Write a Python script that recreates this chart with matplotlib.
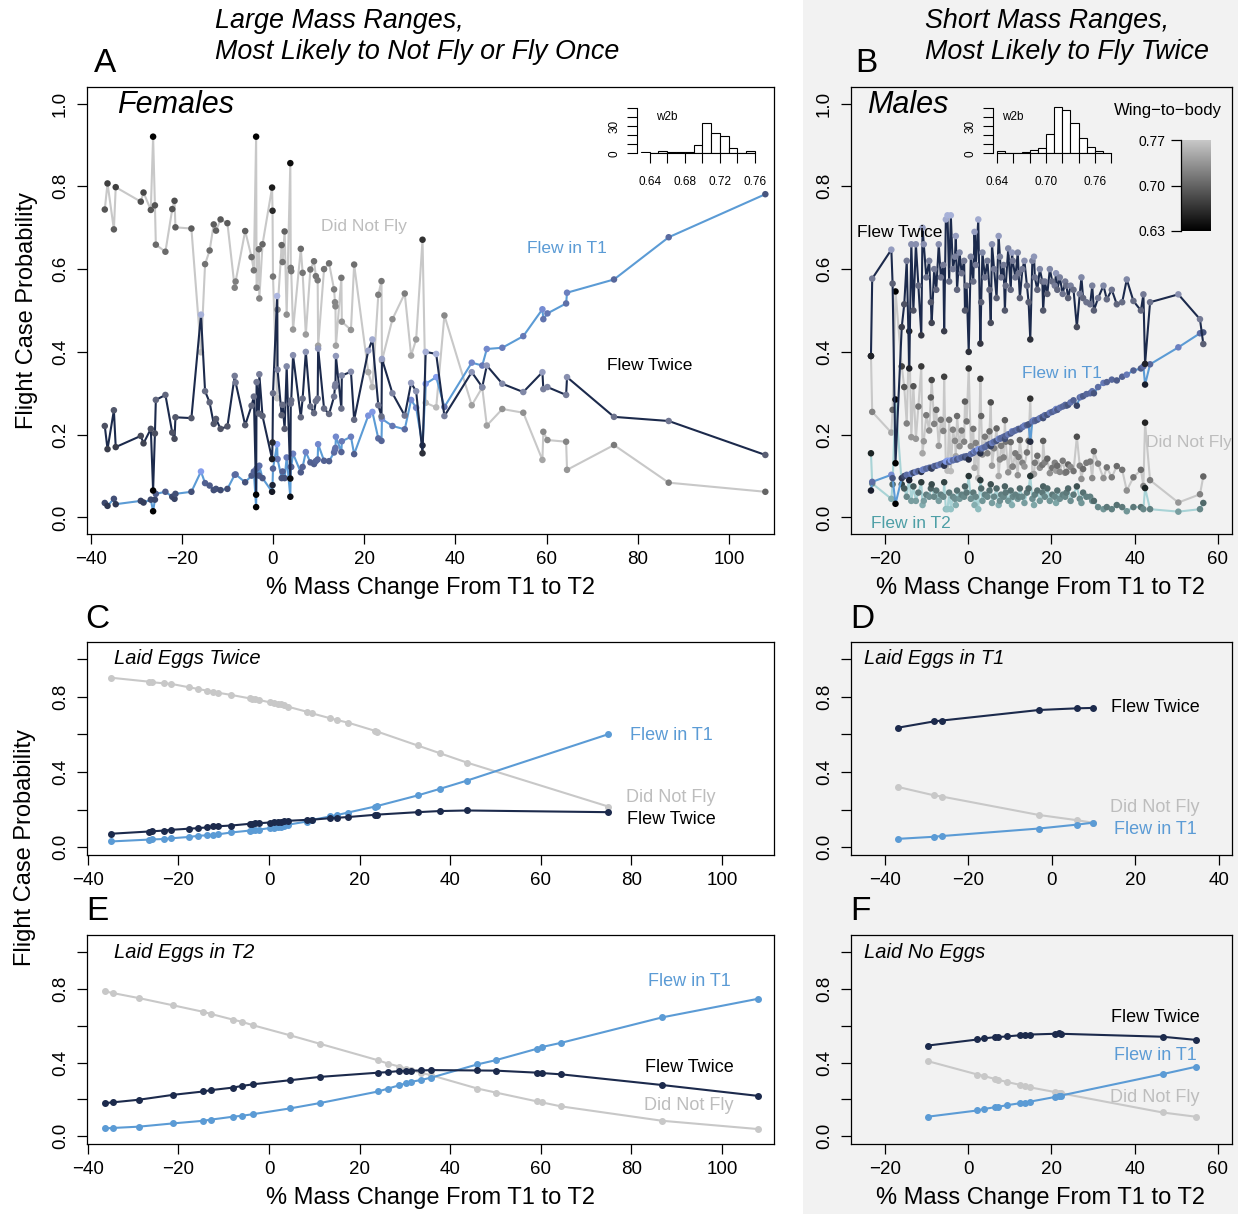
import numpy as np
import matplotlib.pyplot as plt
from matplotlib.colors import LinearSegmentedColormap
from matplotlib.patches import Rectangle

plt.rcParams['font.family'] = ['Liberation Sans', 'DejaVu Sans']

# ---- panel A, females: one entry per individual
fem_mass = [-36.9, -36.3, -34.9, -34.5, -29.0, -28.4, -26.8, -26.3, -25.9, -25.7,
            -23.6, -22.1, -21.6, -21.4, -17.9, -15.8, -14.9, -13.9, -13.0, -12.5,
            -11.5, -10.0, -8.4, -8.2, -6.1, -4.7, -4.2, -3.7, -3.6, -3.1,
            -3.0, -2.3, -0.2, -0.1, 0.0, 0.9, 1.0, 1.9, 2.1, 2.55,
            3.0, 3.8, 3.9, 4.0, 4.4, 6.1, 6.5, 7.2, 8.2, 9.0,
            9.4, 9.8, 9.9, 11.2, 12.3, 13.4, 13.6, 13.7, 13.8, 15.0,
            15.1, 17.1, 17.8, 20.9, 21.8, 23.1, 23.8, 23.9, 26.2, 28.9,
            30.3, 31.4, 32.8, 33.5, 35.8, 37.6, 43.6, 45.9, 46.9, 50.3,
            54.9, 59.1, 59.3, 60.2, 64.3, 64.5, 74.8, 86.8, 108.0]
fem_dnf = [.744, .807, .696, .798, .763, .785, .743, .920, .754, .659,
           .642, .745, .765, .701, .698, .399, .612, .645, .708, .693,
           .720, .711, .555, .570, .692, .629, .597, .920, .555, .648,
           .529, .660, .797, .741, .582, .288, .502, .658, .617, .691,
           .490, .856, .603, .595, .454, .649, .591, .442, .599, .619,
           .583, .573, .415, .600, .614, .551, .520, .510, .415, .579,
           .473, .453, .611, .351, .315, .538, .571, .379, .479, .541,
           .391, .430, .671, .277, .266, .488, .271, .314, .222, .262,
           .253, .139, .207, .187, .183, .115, .175, .084, .062]
fem_twice = [.221, .165, .259, .170, .197, .179, .214, .065, .203, .284,
             .296, .205, .190, .242, .240, .490, .305, .278, .226, .238,
             .214, .220, .342, .326, .223, .270, .292, .055, .327, .251,
             .346, .245, .141, .181, .300, .535, .357, .247, .272, .214,
             .365, .094, .275, .283, .392, .242, .287, .400, .268, .252,
             .281, .287, .408, .263, .250, .292, .316, .322, .390, .263,
             .343, .352, .236, .403, .430, .271, .244, .383, .300, .246,
             .325, .305, .155, .400, .395, .245, .351, .315, .367, .323,
             .303, .351, .310, .315, .296, .339, .243, .233, .151]
fem_t1 = [.035, .028, .045, .032, .040, .036, .043, .015, .043, .057,
          .062, .050, .045, .057, .062, .111, .083, .077, .066, .069,
          .066, .069, .103, .104, .085, .101, .111, .025, .118, .101,
          .125, .095, .062, .078, .118, .177, .141, .095, .111, .095,
          .145, .050, .122, .122, .154, .109, .122, .158, .133, .129,
          .136, .140, .177, .137, .136, .157, .164, .168, .195, .158,
          .184, .195, .153, .246, .255, .191, .185, .238, .221, .213,
          .284, .265, .174, .323, .339, .267, .374, .367, .407, .410,
          .438, .503, .479, .493, .517, .543, .575, .677, .781]
fem_w2b = [.690, .675, .695, .675, .685, .680, .690, .632, .688, .705,
           .705, .690, .685, .695, .695, .760, .710, .705, .695, .697,
           .692, .694, .720, .718, .697, .706, .712, .632, .718, .704,
           .722, .702, .650, .660, .712, .765, .725, .700, .710, .698,
           .730, .640, .712, .712, .735, .705, .712, .738, .710, .708,
           .713, .715, .742, .710, .708, .718, .722, .724, .742, .712,
           .730, .733, .708, .750, .755, .718, .712, .748, .728, .718,
           .745, .738, .665, .758, .760, .725, .740, .730, .742, .732,
           .730, .745, .725, .728, .722, .735, .715, .718, .700]

# ---- panel B, males
male_mass = [-23.4, -23.1, -18.5, -18.2, -17.5, -16.0, -15.4, -14.8, -14.2, -13.7,
             -13.2, -12.6, -12.0, -11.3, -11.0, -10.7, -10.1, -9.4, -9.0, -8.8,
             -8.2, -7.7, -7.1, -6.6, -6.0, -5.8, -5.4, -5.0, -4.6, -4.2,
             -3.7, -3.2, -3.0, -2.7, -2.1, -1.6, -1.0, -0.8, -0.4, 0.1,
             0.6, 1.2, 1.5, 1.8, 2.4, 2.9, 3.1, 3.4, 4.0, 4.6,
             5.1, 5.4, 5.7, 6.2, 6.8, 7.3, 7.6, 7.9, 8.5, 8.8,
             9.0, 9.6, 10.2, 10.5, 10.7, 11.3, 11.9, 12.1, 12.4, 13.0,
             13.5, 14.1, 14.5, 14.9, 15.4, 15.8, 16.0, 16.6, 17.2, 17.8,
             18.0, 18.4, 19.0, 19.6, 20.2, 20.8, 21.1, 21.4, 22.0, 22.7,
             23.3, 23.6, 24.0, 24.6, 25.3, 26.1, 26.8, 27.2, 27.6, 28.4,
             29.3, 29.8, 30.2, 31.2, 32.5, 33.3, 34.5, 35.7, 37.0, 38.1,
             39.7, 41.5, 42.1, 42.5, 43.7, 50.5, 55.7, 56.5]
male_twice = [.390, .577, .647, .565, .131, .460, .515, .620, .360, .660,
              .500, .660, .560, .440, .700, .660, .580, .620, .520, .470,
              .600, .550, .660, .580, .610, .450, .720, .730, .570, .730,
              .600, .630, .680, .550, .640, .590, .620, .500, .560, .400,
              .630, .570, .690, .610, .720, .420, .520, .640, .580, .620,
              .550, .470, .660, .600, .530, .680, .630, .580, .610, .500,
              .560, .650, .550, .640, .620, .580, .640, .590, .530, .600,
              .620, .560, .520, .430, .620, .630, .580, .550, .600, .570,
              .500, .570, .540, .600, .570, .560, .590, .550, .580, .540,
              .570, .560, .530, .560, .550, .460, .540, .580, .530, .520,
              .515, .560, .500, .530, .560, .527, .550, .515, .520, .575,
              .523, .500, .539, .371, .520, .539, .479, .419]
male_dnf = [.390, .255, .205, .260, .546, .365, .315, .227, .450, .194,
            .317, .190, .268, .365, .155, .184, .247, .210, .290, .332,
            .226, .260, .173, .236, .209, .340, .125, .113, .236, .112,
            .212, .185, .148, .245, .172, .210, .183, .280, .232, .360,
            .172, .214, .120, .180, .095, .335, .245, .152, .195, .155,
            .208, .278, .125, .167, .215, .100, .140, .173, .145, .235,
            .183, .109, .182, .122, .123, .155, .102, .146, .187, .132,
            .123, .157, .185, .287, .103, .105, .132, .149, .120, .127,
            .185, .133, .142, .107, .120, .132, .113, .125, .110, .137,
            .108, .110, .128, .122, .112, .195, .125, .093, .117, .132,
            .135, .095, .160, .130, .095, .121, .097, .124, .115, .065,
            .097, .115, .076, .229, .090, .036, .056, .099]
male_t1 = [.065, .086, .103, .095, .033, .095, .100, .103, .090, .106,
           .108, .110, .112, .110, .115, .116, .118, .120, .120, .118,
           .124, .125, .127, .129, .131, .125, .135, .137, .134, .138,
           .138, .140, .142, .140, .143, .145, .147, .145, .148, .140,
           .153, .156, .160, .160, .165, .155, .165, .168, .170, .175,
           .177, .172, .180, .183, .185, .190, .190, .192, .195, .190,
           .197, .201, .203, .208, .207, .210, .213, .214, .213, .218,
           .222, .223, .225, .183, .232, .235, .233, .236, .240, .243,
           .240, .247, .248, .253, .255, .258, .262, .260, .265, .268,
           .272, .270, .272, .278, .283, .270, .290, .292, .293, .298,
           .300, .305, .300, .315, .325, .327, .333, .331, .340, .345,
           .355, .360, .365, .321, .370, .411, .445, .447]
male_t2 = [.155, .082, .045, .080, .285, .080, .070, .050, .100, .040,
           .075, .040, .060, .085, .030, .040, .055, .050, .070, .080,
           .050, .065, .040, .055, .050, .085, .020, .020, .060, .020,
           .050, .045, .030, .065, .045, .055, .050, .075, .060, .100,
           .045, .060, .030, .050, .020, .090, .070, .040, .055, .050,
           .065, .080, .035, .050, .070, .030, .040, .055, .050, .075,
           .060, .040, .065, .030, .050, .055, .045, .050, .070, .050,
           .035, .060, .070, .100, .045, .030, .055, .065, .040, .060,
           .075, .050, .070, .040, .055, .050, .035, .065, .045, .055,
           .050, .060, .070, .040, .055, .075, .045, .035, .060, .050,
           .050, .040, .040, .025, .020, .025, .020, .030, .025, .015,
           .025, .025, .020, .071, .020, .014, .020, .035]
male_w2b = [.655, .720, .745, .700, .630, .675, .690, .720, .655, .735,
            .690, .735, .710, .670, .745, .735, .715, .725, .695, .680,
            .720, .705, .735, .715, .720, .675, .755, .760, .710, .760,
            .720, .725, .745, .705, .730, .715, .720, .695, .710, .665,
            .725, .710, .745, .720, .755, .670, .700, .730, .715, .720,
            .705, .685, .735, .720, .700, .745, .725, .715, .720, .695,
            .710, .730, .705, .745, .720, .715, .730, .715, .700, .720,
            .735, .710, .700, .665, .725, .740, .715, .705, .730, .710,
            .695, .720, .700, .730, .710, .720, .740, .705, .725, .715,
            .720, .710, .700, .725, .710, .685, .720, .730, .705, .715,
            .715, .725, .700, .720, .730, .710, .715, .705, .710, .730,
            .710, .705, .720, .655, .715, .735, .720, .700]

# w2b histograms (bin left edges, counts)
fem_hist_left = [0.63, 0.64, 0.65, 0.66, 0.67, 0.68, 0.69, 0.70, 0.71, 0.72, 0.73, 0.74, 0.75]
fem_hist_n = [1, 0, 2, 1, 1, 1, 9, 33, 22, 19, 6, 0, 3]
male_hist_left = [0.64, 0.65, 0.66, 0.67, 0.68, 0.69, 0.70, 0.71, 0.72, 0.73, 0.74, 0.75, 0.76]
male_hist_n = [2, 0, 0, 1, 4, 6, 21, 51, 47, 33, 17, 7, 3]

# ---- panel C, laid eggs twice
c_mass = [-35.0, -26.6, -25.9, -23.3, -21.6, -17.7, -15.7, -13.7, -12.3, -11.3, -8.3,
          -4.3, -3.8, -3.1, -2.3, 0.1, 1.1, 1.9, 2.6, 3.4, 4.1, 8.3, 9.5, 13.5, 14.9,
          17.4, 23.4, 23.9, 32.8, 37.7, 43.7, 74.9]
c_dnf = [.902, .881, .878, .872, .869, .851, .842, .833, .826, .822, .810,
         .792, .790, .786, .784, .771, .766, .762, .760, .756, .748, .721, .712, .686, .677,
         .663, .619, .615, .541, .500, .450, .216]
c_twice = [.071, .083, .084, .088, .092, .098, .101, .105, .110, .111, .115,
           .124, .125, .126, .127, .131, .133, .134, .136, .138, .140, .145, .146, .154, .156,
           .160, .172, .173, .186, .192, .195, .186]
c_t1 = [.030, .040, .041, .043, .047, .054, .060, .063, .065, .068, .078,
        .088, .089, .091, .093, .101, .104, .106, .108, .110, .119, .136, .145, .163, .170,
        .184, .216, .219, .275, .310, .354, .601]

# ---- panel D, laid eggs in T1
d_mass = [-36.8, -28.3, -26.3, -3.1, 6.1, 9.8]
d_twice = [.636, .669, .674, .730, .739, .741]
d_dnf = [.320, .276, .269, .171, .143, .130]
d_t1 = [.044, .055, .059, .099, .120, .130]

# ---- panel E, laid eggs in T2
e_mass = [-36.2, -34.5, -28.8, -21.1, -14.5, -12.9, -8.0, -6.0, -3.5, 4.6, 11.2, 24.1, 26.3,
          28.8, 30.3, 31.3, 33.5, 35.8, 46.0, 50.1, 59.2, 60.2, 64.5, 86.8, 108.0]
e_dnf = [.786, .777, .750, .710, .675, .664, .633, .621, .602, .548, .502, .412, .394,
         .378, .367, .360, .345, .331, .259, .237, .189, .184, .162, .084, .039]
e_twice = [.180, .184, .198, .225, .243, .250, .264, .273, .282, .304, .322, .345, .348,
           .354, .355, .356, .357, .359, .357, .356, .345, .343, .336, .278, .219]
e_t1 = [.043, .045, .052, .070, .084, .090, .106, .111, .120, .151, .180, .243, .259,
        .277, .288, .295, .305, .318, .390, .413, .475, .484, .507, .645, .746]

# ---- panel F, laid no eggs
f_mass = [-9.8, 2.2, 3.8, 6.5, 7.2, 9.4, 12.4, 13.6, 14.9, 20.8, 21.7, 22.3, 46.7, 54.7]
f_twice = [.492, .525, .531, .538, .538, .542, .548, .550, .552, .556, .558, .556, .540, .523]
f_t1 = [.106, .140, .148, .158, .160, .169, .179, .183, .188, .213, .217, .221, .337, .377]
f_dnf = [.408, .335, .327, .310, .306, .294, .279, .273, .265, .240, .235, .233, .129, .106]

DNF_C = '#C8C8C8'
TW_C = '#1C2A4C'
T1_C = '#5B9BD5'
T2_C = '#A8D3D6'
GRAY_BG = '#F2F2F2'

W, H = 1238, 1214
fig = plt.figure(figsize=(W / 100, H / 100), dpi=100)


def rect(l, t, r, b):
    return [l / W, 1 - b / H, (r - l) / W, (b - t) / H]


def ftext(x, y, s, **kw):
    kw.setdefault('va', 'center')
    fig.text(x / W, 1 - y / H, s, **kw)


def shade(light, w):
    cmap = LinearSegmentedColormap.from_list('w2b', ['black', light])
    return cmap((np.asarray(w) - 0.63) / 0.14)


def frame(ax, xlim, ylim, xticks, yticks, ylabels, bg='white'):
    ax.set_facecolor(bg)
    ax.set_xlim(*xlim)
    ax.set_ylim(*ylim)
    ax.set_xticks(xticks)
    ax.set_yticks(yticks)
    ax.set_yticklabels(ylabels, rotation=90, va='center')
    ax.tick_params(direction='out', length=7, width=0.9, labelsize=13.5, pad=5)
    ax.tick_params(axis='y', pad=6)
    for s in ax.spines.values():
        s.set_linewidth(0.9)


fig.add_artist(Rectangle((803 / W, 0), 1 - 803 / W, 1, transform=fig.transFigure,
                         facecolor=GRAY_BG, edgecolor='none', zorder=-5))

big_y = [0, 0.2, 0.4, 0.6, 0.8, 1.0]
big_lab = ['0.0', '0.2', '0.4', '0.6', '0.8', '1.0']
small_lab = ['0.0', '', '0.4', '', '0.8', '']

# panel A
axA = fig.add_axes(rect(87, 87, 774, 534))
frame(axA, (-40.8, 109.9), (-0.04, 1.04), range(-40, 101, 20), big_y, big_lab)
z = 2
for vals, lc, light in [(fem_dnf, DNF_C, '#C8C8C8'), (fem_t1, T1_C, '#8FAAFF'),
                        (fem_twice, TW_C, '#B4BEE8')]:
    axA.plot(fem_mass, vals, color=lc, lw=1.5, zorder=z)
    axA.scatter(fem_mass, vals, c=shade(light, fem_w2b), s=22, lw=0, zorder=z + 0.5)
    z += 1

# panel B
axB = fig.add_axes(rect(851, 87, 1232, 534))
frame(axB, (-28.2, 63.4), (-0.04, 1.04), range(-20, 61, 20), big_y, big_lab, GRAY_BG)
z = 2
for vals, lc, light in [(male_dnf, DNF_C, '#C8C8C8'), (male_t2, T2_C, '#A0D2D4'),
                        (male_t1, T1_C, '#8FAAFF'), (male_twice, TW_C, '#B4BEE8')]:
    axB.plot(male_mass, vals, color=lc, lw=1.5, zorder=z)
    axB.scatter(male_mass, vals, c=shade(light, male_w2b), s=22, lw=0, zorder=z + 0.5)
    z += 1

small_ylim = (-0.042, 1.092)
small_y = [0, 0.2, 0.4, 0.6, 0.8, 1.0]


def small_panel(box, xlim, xticks, mass, series, bg):
    ax = fig.add_axes(rect(*box))
    frame(ax, xlim, small_ylim, xticks, small_y, small_lab, bg)
    for vals, c in series:
        ax.plot(mass, vals, color=c, lw=1.5, marker='o', ms=4, mec=c, mfc=c)
    return ax


small_panel((87, 642, 774, 855), (-40.2, 111.5), range(-40, 101, 20), c_mass,
            [(c_dnf, DNF_C), (c_t1, T1_C), (c_twice, TW_C)], 'white')
small_panel((851, 642, 1232, 855), (-48.1, 43.1), range(-40, 41, 20), d_mass,
            [(d_dnf, DNF_C), (d_t1, T1_C), (d_twice, TW_C)], GRAY_BG)
small_panel((87, 935, 774, 1144), (-40.2, 111.5), range(-40, 101, 20), e_mass,
            [(e_dnf, DNF_C), (e_t1, T1_C), (e_twice, TW_C)], 'white')
small_panel((851, 935, 1232, 1144), (-28.2, 63.4), range(-20, 61, 20), f_mass,
            [(f_dnf, DNF_C), (f_t1, T1_C), (f_twice, TW_C)], GRAY_BG)


# w2b histogram insets
def inset(l, r, xlim, lefts, counts, xticks, xlabels, label_x):
    ax = fig.add_axes(rect(l, 105, r, 153.3))
    ax.patch.set_alpha(0)
    ax.bar(lefts, counts, width=0.01, align='edge', facecolor='white',
           edgecolor='black', lw=0.8)
    ax.set_xlim(*xlim)
    ax.set_ylim(0, 53)
    for s in ['top', 'right']:
        ax.spines[s].set_visible(False)
    ax.spines['left'].set_bounds(0, 50)
    ax.spines['bottom'].set_bounds(xticks[0], xticks[-1])
    for s in ['left', 'bottom']:
        ax.spines[s].set_linewidth(0.8)
    ax.set_yticks(range(0, 51, 10))
    ax.set_yticklabels(['0', '', '', '30', '', ''], rotation=90, va='center')
    ax.set_xticks(xticks)
    ax.set_xticklabels(xlabels)
    ax.tick_params(direction='out', length=7, width=0.8, labelsize=8.5, pad=5)
    ax.tick_params(axis='x', pad=9)
    ftext(label_x, 117, 'w2b', ha='left', fontsize=8.5)


inset(637, 760, (0.6255, 0.7657), fem_hist_left, fem_hist_n,
      [0.64, 0.66, 0.68, 0.70, 0.72, 0.74, 0.76],
      ['0.64', '', '0.68', '', '0.72', '', '0.76'], 656)
inset(993, 1112, (0.635, 0.7811), male_hist_left, male_hist_n,
      [0.64, 0.66, 0.68, 0.70, 0.72, 0.74, 0.76, 0.78],
      ['0.64', '', '', '0.70', '', '', '0.76', ''], 1002)

# colour key for wing-to-body ratio
axK = fig.add_axes(rect(1181, 140, 1211, 231))
axK.imshow(np.linspace(0, 1, 256)[:, None], aspect='auto', origin='lower',
           extent=[0, 1, 0.63, 0.77], cmap=LinearSegmentedColormap.from_list('k', ['black', '#C8C8C8']))
axK.set_ylim(0.63, 0.77)
axK.set_xticks([])
axK.set_yticks([0.63, 0.70, 0.77])
axK.set_yticklabels(['0.63', '0.70', '0.77'])
for s in ['top', 'right', 'bottom']:
    axK.spines[s].set_visible(False)
axK.spines['left'].set_linewidth(0.9)
axK.tick_params(direction='out', length=7, width=0.9, labelsize=10, pad=4)
ftext(1168, 110, 'Wing\u2212to\u2212body', ha='center', fontsize=12)

# titles and panel letters
for x, y, s in [(215, 21, 'Large Mass Ranges,'), (215, 52, 'Most Likely to Not Fly or Fly Once'),
                (925, 21, 'Short Mass Ranges,'), (925, 52, 'Most Likely to Fly Twice')]:
    ftext(x, y, s, ha='left', fontsize=19.4, style='italic')
for x, y, s in [(105, 63, 'A'), (866, 63, 'B'), (97, 620, 'C'), (862, 620, 'D'),
                (97, 912, 'E'), (860, 912, 'F')]:
    ftext(x, y, s, ha='center', fontsize=24)

ftext(117, 105, 'Females', ha='left', fontsize=22, style='italic')
ftext(867, 105, 'Males', ha='left', fontsize=22, style='italic')
for x, y, s in [(114, 659, 'Laid Eggs Twice'), (864, 659, 'Laid Eggs in T1'),
                (114, 952, 'Laid Eggs in T2'), (864, 952, 'Laid No Eggs')]:
    ftext(x, y, s, ha='left', fontsize=14.5, style='italic')

DNF_T = '#BDBDBD'
T2_T = '#4E9FA6'
labels = [
    (321, 226, 'Did Not Fly', DNF_T, 12.5), (527, 249, 'Flew in T1', T1_C, 12.5),
    (607, 366, 'Flew Twice', 'black', 12.5),
    (857, 232, 'Flew Twice', 'black', 12.5), (1022, 373, 'Flew in T1', T1_C, 12.5),
    (1146, 442, 'Did Not Fly', DNF_T, 12.5), (871, 523, 'Flew in T2', T2_T, 12.5),
    (630, 735, 'Flew in T1', T1_C, 13), (626, 798, 'Did Not Fly', DNF_T, 13),
    (627, 820, 'Flew Twice', 'black', 13),
    (1111, 707, 'Flew Twice', 'black', 13), (1110, 808, 'Did Not Fly', DNF_T, 13),
    (1114, 829, 'Flew in T1', T1_C, 13),
    (648, 982, 'Flew in T1', T1_C, 13), (645, 1068, 'Flew Twice', 'black', 13),
    (644, 1105, 'Did Not Fly', DNF_T, 13),
    (1111, 1017, 'Flew Twice', 'black', 13), (1114, 1056, 'Flew in T1', T1_C, 13),
    (1110, 1097, 'Did Not Fly', DNF_T, 13),
]
for x, y, s, c, fs in labels:
    ftext(x, y, s, ha='left', color=c, fontsize=fs, zorder=10)

ftext(27, 310, 'Flight Case Probability', ha='center', rotation=90, fontsize=17)
ftext(25, 848, 'Flight Case Probability', ha='center', rotation=90, fontsize=17)
for x, y in [(430, 588), (1041, 588), (430, 1198), (1041, 1198)]:
    ftext(x, y, '% Mass Change From T1 to T2', ha='center', fontsize=17)

fig.savefig('out.png', dpi=100)
